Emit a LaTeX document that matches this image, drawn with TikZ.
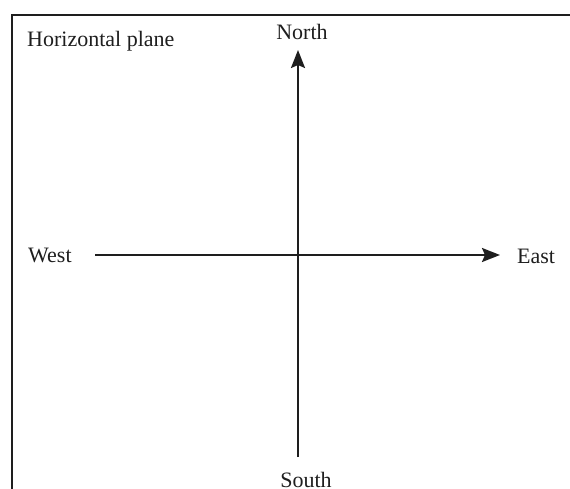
\documentclass[tikz,border=0pt]{standalone}
\usepackage{fontspec}
\setmainfont{Liberation Serif}
\usetikzlibrary{arrows.meta}
\definecolor{ink}{HTML}{1E1E1E}
\begin{document}
\begin{tikzpicture}[x=1pt,y=-1pt,
  lbl/.style={inner sep=0pt,text=ink,font=\fontsize{22}{26}\selectfont},
  axis/.style={draw=ink,line width=2.2pt,-{Stealth[length=18pt,width=14pt,inset=3pt]}},
  frameline/.style={draw=ink,line width=2pt}]
\useasboundingbox (0,0) rectangle (570,489);
\begin{scope}
\clip (0,0) rectangle (570,489);
% frame (top and left only)
\coordinate (fbl) at (12,495);
\coordinate (ftl) at (12,15);
\coordinate (ftr) at (575,15);
\draw[frameline] (fbl) -- (ftl) -- (ftr);
% labels
\node[lbl,anchor=base west] (hp) at (27,47) {Horizontal plane};
\node[lbl,anchor=base] (north) at (302,40) {North};
\node[lbl,anchor=base west] (west) at (28,262) {West};
\node[lbl,anchor=base west] (east) at (517,263) {East};
\node[lbl,anchor=base] (south) at (306,487) {South};
% axes
\coordinate (vb) at (298,457);
\coordinate (vt) at (298,50);
\coordinate (hl) at (95,255);
\coordinate (hr) at (500,255);
\draw[axis] (vb) -- (vt);
\draw[axis] (hl) -- (hr);
\end{scope}
\end{tikzpicture}
\end{document}
